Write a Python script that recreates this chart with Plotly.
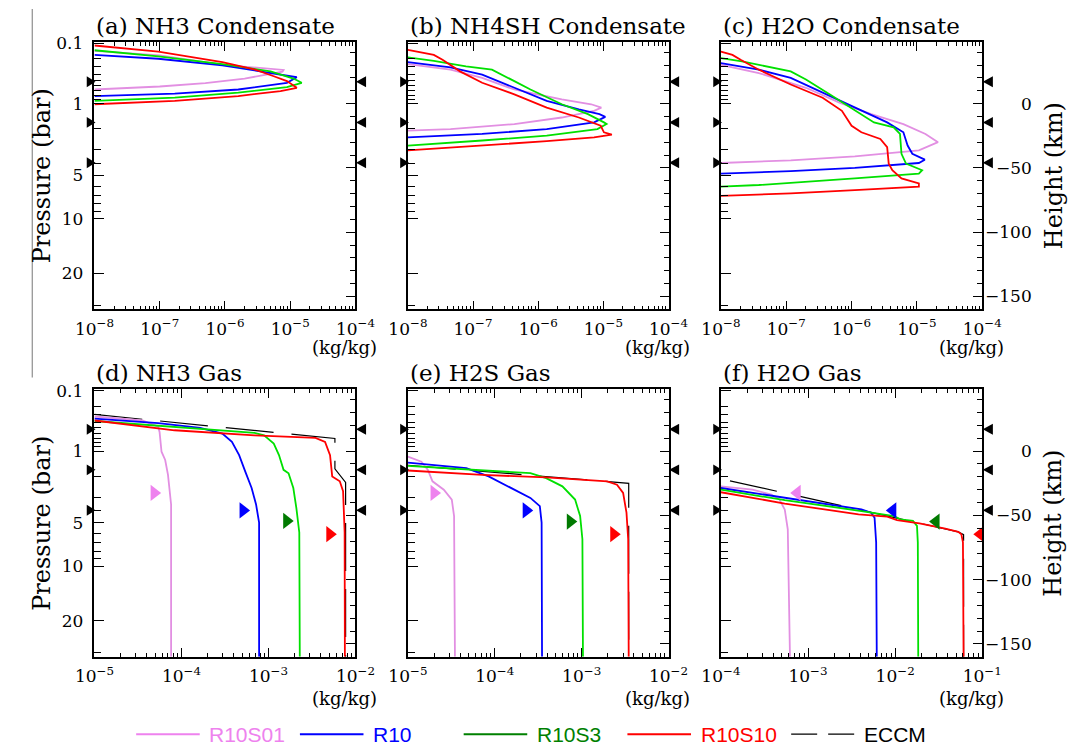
import plotly.graph_objects as go

FIG_W, FIG_H = 1088, 750

# ---------------- axis / tick values ----------------
H_RANGE = [-160, 48]                      # height (km), linear vertical axis
P_LABELS = ["0.1", "1", "5", "10", "20"]  # pressure (bar) labels
P_LABEL_H = [47.0, 0.0, -55.6, -89.5, -131.8]
P_MINOR_H = [35.0, 28.5, 22.5, 18.0, 14.0, 10.0, 6.5, 3.2,
             -19.7, -35.9, -46.2, -64.1, -71.3, -77.9, -83.8, -157.0]
HEIGHT_TICKS = [0, -50, -100, -150]
HEIGHT_LABELS = ["0", "\u221250", "\u2212100", "\u2212150"]
CLOUD_BASE_H = [17.0, -14.6, -46.0]       # black triangles (km)

TITLES = ["(a) NH3 Condensate", "(b) NH4SH Condensate", "(c) H2O Condensate",
          "(d) NH3 Gas", "(e) H2S Gas", "(f) H2O Gas"]
X_EXP_RANGES = [(-8, -4), (-8, -4), (-8, -4), (-5, -2), (-5, -2), (-4, -1)]

SERIES = ["R10S01", "R10", "R10S3", "R10S10", "ECCM"]
LINE_COLORS = {"R10S01": "#E28FE2", "R10": "#0000FF", "R10S3": "#00E000",
               "R10S10": "#FF0000", "ECCM": "#000000"}
LEGEND_COLORS = ["#EE82EE", "#0000FF", "#008000", "#FF0000", "#000000"]
MARKER_COLORS = {"R10S01": "#EE82EE", "R10": "#0000FF", "R10S3": "#007A00", "R10S10": "#FF0000"}

# ---------------- (a) NH3 condensate ----------------
A_R10S01_X = [1e-8, 1e-7, 1e-6, 3e-6, 6e-6, 7.9e-6, 7.6e-6, 5.6e-6, 2.0e-6, 5e-7, 1e-7, 1e-8]
A_R10S01_H = [41.0, 37.5, 30.0, 27.8, 26.8, 26.2, 24.8, 23.5, 19.5, 16.0, 13.3, 11.0]
A_R10_X = [1e-8, 9.5e-8, 9.1e-7, 5.0e-6, 1.26e-5, 8.9e-6, 1.6e-6, 1.7e-7, 1e-8]
A_R10_H = [37.9, 34.9, 29.8, 23.8, 20.5, 16.2, 11.0, 7.7, 5.9]
A_R10S3_X = [1e-8, 9.5e-8, 9.1e-7, 5.0e-6, 1.12e-5, 1.5e-5, 8.9e-6, 1.6e-6, 1.7e-7, 1e-8]
A_R10S3_H = [41.5, 36.7, 30.8, 25.1, 19.5, 16.2, 12.8, 8.5, 4.6, 2.1]
A_R10S10_X = [1e-8, 9.5e-8, 9.1e-7, 2.9e-6, 5.6e-6, 8.9e-6, 1.26e-5, 7.1e-6, 1.6e-6, 1.7e-7, 1e-8]
A_R10S10_H = [45.2, 40.5, 32.3, 26.4, 21.3, 17.5, 12.3, 9.8, 5.9, 2.1, -0.5]

# ---------------- (b) NH4SH condensate ----------------
B_R10S01_X = [1e-8, 4.5e-8, 1.38e-7, 4.3e-7, 1.07e-6, 2.3e-6, 6.5e-6, 9.3e-6, 7.2e-6, 2.3e-6, 4.3e-7, 4.5e-8, 1e-8]
B_R10S01_H = [30.8, 26.4, 20.0, 11.0, 6.7, 3.3, -0.5, -3.1, -5.6, -10.8, -15.9, -19.8, -21.0]
B_R10_X = [1e-8, 4.5e-8, 1.38e-7, 4.3e-7, 1.35e-6, 4.2e-6, 8.7e-6, 1.07e-5, 7.2e-6, 1.35e-6, 1.38e-7, 1e-8]
B_R10_H = [32.3, 28.2, 22.6, 12.3, 2.1, -4.4, -8.2, -10.3, -14.6, -19.8, -23.6, -26.2]
B_R10S3_X = [1e-8, 2.5e-8, 7.8e-8, 1.95e-7, 4.3e-7, 7.6e-7, 2.3e-6, 5.8e-6, 1.02e-5, 1.12e-5, 8.1e-6, 1.35e-6, 1.38e-7, 1e-8]
B_R10S3_H = [35.9, 33.3, 29.0, 26.4, 17.5, 11.0, -0.5, -8.2, -14.6, -15.9, -19.8, -24.9, -28.7, -32.6]
B_R10S10_X = [1e-8, 2.5e-8, 3.4e-8, 6.3e-8, 1.38e-7, 4.3e-7, 1.35e-6, 4.2e-6, 9.1e-6, 1.02e-5, 1.35e-5, 7.2e-6, 1.35e-6, 1.38e-7, 1e-8]
B_R10S10_H = [41.8, 37.9, 34.1, 25.1, 16.2, 7.2, -3.1, -10.8, -17.2, -22.3, -24.1, -26.2, -29.2, -32.6, -36.4]

# ---------------- (c) H2O condensate ----------------
C_R10S01_X = [1e-8, 3.8e-8, 2.0e-7, 6.5e-7, 2.0e-6, 6.2e-6, 1.35e-5, 2.1e-5, 1.07e-5, 1.12e-6, 1.17e-7, 1e-8]
C_R10S01_H = [30.2, 23.8, 12.3, 0.8, -8.2, -15.9, -23.6, -30.0, -36.4, -41.0, -44.1, -46.2]
C_R10_X = [1e-8, 3.8e-8, 1.17e-7, 3.6e-7, 1.12e-6, 3.5e-6, 6.2e-6, 7.2e-6, 8.5e-6, 1.32e-5, 1.07e-5, 1.12e-6, 1.17e-7, 1e-8]
C_R10_H = [31.5, 26.4, 20.0, 8.5, -3.1, -14.6, -22.3, -32.6, -39.0, -43.6, -46.2, -50.0, -52.5, -54.4]
C_R10S3_X = [1e-8, 2.1e-8, 1.17e-7, 2.0e-7, 4.6e-7, 7.9e-7, 1.41e-6, 2.2e-6, 4.4e-6, 5.5e-6, 5.8e-6, 6.8e-6, 1.2e-5, 1.07e-5, 1.12e-6, 3.8e-8, 1e-8]
C_R10S3_H = [35.4, 32.8, 25.1, 18.7, 7.2, -0.5, -8.2, -14.6, -18.5, -23.6, -39.0, -46.7, -51.8, -54.4, -58.2, -63.3, -64.6]
C_R10S10_X = [1e-8, 1.5e-8, 2.0e-8, 3.8e-8, 1.17e-7, 3.6e-7, 7.1e-7, 1.0e-6, 1.41e-6, 2.75e-6, 3.5e-6, 3.7e-6, 4.2e-6, 5.8e-6, 1.07e-5, 1.07e-5, 1.12e-6, 1.17e-7, 1e-8]
C_R10S10_H = [40.5, 37.9, 34.1, 26.4, 14.9, 4.6, -5.6, -17.2, -22.3, -27.5, -33.8, -46.7, -51.8, -58.2, -62.1, -64.6, -67.2, -69.8, -71.8]

# ---------------- (d) NH3 gas ----------------
D_R10S01_X = [1e-5, 3.55e-5, 5.4e-5, 5.6e-5, 5.9e-5, 6.5e-5, 7.0e-5, 7.6e-5, 7.6e-5]
D_R10S01_H = [26.9, 23.8, 19.0, 14.9, -0.5, -6.9, -18.5, -41.5, -160.0]
D_R10_X = [1e-5, 5.4e-5, 1.64e-4, 2.95e-4, 3.8e-4, 4.6e-4, 5.4e-4, 6.4e-4, 7.2e-4, 7.8e-4, 7.8e-4]
D_R10_H = [25.2, 21.8, 18.0, 13.6, 7.2, -3.1, -15.8, -28.7, -41.5, -55.6, -160.0]
D_R10S3_X = [1e-5, 1.26e-4, 6.9e-4, 8.9e-4, 1.15e-3, 1.32e-3, 1.49e-3, 1.7e-3, 1.93e-3, 2.09e-3, 2.26e-3, 2.29e-3]
D_R10S3_H = [23.4, 18.0, 14.1, 12.3, 5.9, -3.1, -14.6, -17.2, -28.7, -44.1, -63.3, -160.0]
D_R10S10_X = [1e-5, 8.3e-5, 6.9e-4, 3.47e-3, 4.47e-3, 5.1e-3, 5.4e-3, 6.6e-3, 7.2e-3, 7.3e-3, 7.5e-3, 7.55e-3]
D_R10S10_H = [23.8, 16.2, 12.3, 10.3, 7.2, -3.1, -19.7, -23.5, -31.2, -45.0, -63.0, -160.0]
D_ECCM_X = [1e-5, 5.8e-3, 5.8e-3, 7.7e-3, 7.7e-3]
D_ECCM_H = [28.5, 9.8, -13.8, -24.3, -160.0]
D_MARK_X = [4.85e-5, 5.1e-4, 1.62e-3, 5.07e-3]
D_MARK_H = [-32.5, -46.1, -54.3, -64.6]

# ---------------- (e) H2S gas ----------------
E_R10S01_X = [1e-5, 1.43e-5, 1.7e-5, 1.92e-5, 2.59e-5, 3.2e-5, 3.4e-5, 3.48e-5]
E_R10S01_H = [-4.3, -8.2, -14.6, -23.5, -30.0, -37.7, -50.5, -160.0]
E_R10_X = [1e-5, 4.7e-5, 8.5e-5, 1.42e-4, 2.57e-4, 3.3e-4, 3.46e-4, 3.5e-4]
E_R10_H = [-8.9, -13.3, -19.7, -27.4, -36.4, -42.8, -55.6, -160.0]
E_R10S3_X = [1e-5, 3.07e-5, 2.57e-4, 3.9e-4, 6.0e-4, 8.4e-4, 9.6e-4, 1.02e-3, 1.035e-3]
E_R10S3_H = [-11.5, -13.3, -17.2, -21.0, -27.4, -37.7, -50.5, -68.5, -160.0]
E_R10S10_X = [1e-5, 7.2e-5, 3.9e-4, 1.97e-3, 2.55e-3, 3.0e-3, 3.28e-3, 3.43e-3, 3.48e-3]
E_R10S10_H = [-15.1, -18.5, -20.5, -23.5, -26.1, -32.5, -47.9, -68.5, -160.0]
E_ECCM_X = [1e-5, 3.48e-3, 3.48e-3]
E_ECCM_H = [-11.0, -25.1, -160.0]
E_MARK_X = [2.0e-5, 2.3e-4, 7.4e-4, 2.34e-3]
E_MARK_H = [-32.5, -46.1, -54.8, -64.6]

# ---------------- (f) H2O gas ----------------
F_R10S01_X = [1e-4, 2.3e-4, 3.8e-4, 4.7e-4, 5.4e-4, 5.85e-4, 6.2e-4]
F_R10S01_H = [-27.4, -30.0, -33.8, -37.7, -45.4, -60.8, -160.0]
F_R10_X = [1e-4, 5.4e-4, 4.1e-3, 5.3e-3, 5.8e-3, 6.05e-3, 6.15e-3]
F_R10_H = [-28.7, -36.4, -45.4, -47.9, -51.8, -71.0, -160.0]
F_R10S3_X = [1e-4, 5.4e-4, 4.1e-3, 9.7e-3, 1.15e-2, 1.6e-2, 1.78e-2, 1.82e-2, 1.84e-2]
F_R10S3_H = [-30.0, -38.2, -46.6, -50.5, -53.1, -54.3, -58.2, -71.0, -160.0]
F_R10S10_X = [1e-4, 5.4e-4, 3.8e-3, 8.1e-3, 1.05e-2, 1.9e-2, 3.76e-2, 5.3e-2, 5.75e-2, 6.0e-2, 6.1e-2]
F_R10S10_H = [-32.0, -40.8, -49.2, -51.0, -53.6, -56.2, -60.2, -62.8, -64.6, -71.0, -160.0]
F_ECCM_X = [1.27e-4, 5.3e-2, 6.1e-2, 6.1e-2]
F_ECCM_H = [-23.1, -62.8, -65.0, -160.0]
F_MARK_X = [7.5e-4, 9.4e-3, 2.95e-2, 9.5e-2]
F_MARK_H = [-32.5, -46.1, -54.8, -64.6]

PANEL_DATA = [
    {"R10S01": (A_R10S01_X, A_R10S01_H), "R10": (A_R10_X, A_R10_H),
     "R10S3": (A_R10S3_X, A_R10S3_H), "R10S10": (A_R10S10_X, A_R10S10_H)},
    {"R10S01": (B_R10S01_X, B_R10S01_H), "R10": (B_R10_X, B_R10_H),
     "R10S3": (B_R10S3_X, B_R10S3_H), "R10S10": (B_R10S10_X, B_R10S10_H)},
    {"R10S01": (C_R10S01_X, C_R10S01_H), "R10": (C_R10_X, C_R10_H),
     "R10S3": (C_R10S3_X, C_R10S3_H), "R10S10": (C_R10S10_X, C_R10S10_H)},
    {"ECCM": (D_ECCM_X, D_ECCM_H), "R10S01": (D_R10S01_X, D_R10S01_H), "R10": (D_R10_X, D_R10_H),
     "R10S3": (D_R10S3_X, D_R10S3_H), "R10S10": (D_R10S10_X, D_R10S10_H)},
    {"ECCM": (E_ECCM_X, E_ECCM_H), "R10S01": (E_R10S01_X, E_R10S01_H), "R10": (E_R10_X, E_R10_H),
     "R10S3": (E_R10S3_X, E_R10S3_H), "R10S10": (E_R10S10_X, E_R10S10_H)},
    {"ECCM": (F_ECCM_X, F_ECCM_H), "R10S01": (F_R10S01_X, F_R10S01_H), "R10": (F_R10_X, F_R10_H),
     "R10S3": (F_R10S3_X, F_R10S3_H), "R10S10": (F_R10S10_X, F_R10S10_H)},
]
PANEL_MARKERS = [None, None, None,
                 (D_MARK_X, D_MARK_H, "triangle-right"),
                 (E_MARK_X, E_MARK_H, "triangle-right"),
                 (F_MARK_X, F_MARK_H, "triangle-left")]

# ---------------- layout geometry (pixels) ----------------
COLS = [(77.3, 348.3), (402.7, 673.3), (727.7, 999.0)]
ROWS = [(33.3, 304.0), (385.0, 655.7)]
UNIT_OFFSET = [39, 42]
SERIF = "DejaVu Serif"
SANS = "Liberation Sans"

fig = go.Figure()
annotations = []
shapes = []
layout = {}


def px_x(v):
    return v / FIG_W


def px_y(v):
    return 1 - v / FIG_H


def ax_id(letter, n):
    return letter if n == 1 else f"{letter}{n}"


for k in range(6):
    i = k + 1
    row, col = divmod(k, 3)
    c0, c1 = COLS[col]
    r0, r1 = ROWS[row]
    xa, ya, ya2 = ax_id("x", i), ax_id("y", i), ax_id("y", i + 6)
    e0, e1 = X_EXP_RANGES[k]

    for name, (xs, hs) in PANEL_DATA[k].items():
        fig.add_trace(go.Scatter(
            x=xs, y=hs, mode="lines", xaxis=xa, yaxis=ya, showlegend=False,
            hoverinfo="skip",
            line=dict(color=LINE_COLORS[name], width=1.2 if name == "ECCM" else 1.8,
                      dash="48px,18px" if name == "ECCM" else "solid")))
    if PANEL_MARKERS[k] is not None:
        mx, mh, sym = PANEL_MARKERS[k]
        fig.add_trace(go.Scatter(
            x=mx, y=mh, mode="markers", xaxis=xa, yaxis=ya, showlegend=False,
            hoverinfo="skip", cliponaxis=False,
            marker=dict(symbol=sym, size=14,
                        color=[MARKER_COLORS[s] for s in SERIES[:4]],
                        line=dict(width=0))))
    # dummy trace so the right-hand height axis is drawn
    fig.add_trace(go.Scatter(x=[None], y=[None], xaxis=xa, yaxis=ya2,
                             showlegend=False, hoverinfo="skip"))

    major = [10.0 ** e for e in range(e0, e1 + 1)]
    minor = [m * 10.0 ** e for e in range(e0, e1) for m in range(2, 10)]
    layout[ax_id("xaxis", i)] = dict(
        type="log", range=[e0, e1], domain=[px_x(c0), px_x(c1)], anchor=ya,
        tickmode="array", tickvals=major,
        ticktext=[f"10<sup>\u2212{abs(e)}</sup>" for e in range(e0, e1 + 1)],
        ticks="inside", ticklen=9, tickwidth=1, tickcolor="black",
        minor=dict(tickmode="array", tickvals=minor, ticks="inside", ticklen=4,
                   tickwidth=1, tickcolor="black"),
        mirror="ticks", showline=True, linecolor="black", linewidth=1.5,
        showgrid=False, zeroline=False, fixedrange=True,
        tickfont=dict(family=SERIF, size=17, color="black"), ticklabelstandoff=3)
    layout[ax_id("yaxis", i)] = dict(
        range=H_RANGE, domain=[px_y(r1), px_y(r0)], anchor=xa,
        tickmode="array", tickvals=P_LABEL_H, ticktext=P_LABELS,
        showticklabels=(col == 0),
        ticks="inside", ticklen=10, tickwidth=1, tickcolor="black",
        minor=dict(tickmode="array", tickvals=P_MINOR_H, ticks="inside", ticklen=7,
                   tickwidth=1, tickcolor="black"),
        showline=True, mirror=True, linecolor="black", linewidth=1.5,
        showgrid=False, zeroline=False, fixedrange=True,
        tickfont=dict(family=SERIF, size=17, color="black"), ticklabelstandoff=6)
    layout[ax_id("yaxis", i + 6)] = dict(
        range=H_RANGE, overlaying=ya, anchor=xa, side="right",
        tickmode="array", tickvals=HEIGHT_TICKS, showticklabels=False,
        ticks="inside", ticklen=9, tickwidth=1, tickcolor="black",
        minor=dict(dtick=10, tick0=0, ticks="inside", ticklen=5, tickwidth=1,
                   tickcolor="black"),
        showline=False, showgrid=False, zeroline=False, fixedrange=True)

    # panel title
    annotations.append(dict(text=TITLES[k], xref=f"{xa} domain", x=0, xanchor="left",
                            yref="paper", y=px_y(r0 - 16.3), yanchor="middle",
                            showarrow=False, font=dict(family=SERIF, size=23, color="black")))
    # unit label
    annotations.append(dict(text="(kg/kg)", xref=f"{xa} domain", x=1.091, xanchor="right",
                            yref="paper", y=px_y(r1 + UNIT_OFFSET[row]), yanchor="middle",
                            showarrow=False, font=dict(family=SERIF, size=18, color="black")))
    # right height labels
    if col == 2:
        for hv, ht in zip(HEIGHT_TICKS, HEIGHT_LABELS):
            annotations.append(dict(text=ht, xref=f"{xa} domain", x=1 + 54 / (c1 - c0),
                                    xanchor="right", yref=ya, y=hv, yanchor="middle",
                                    showarrow=False,
                                    font=dict(family=SERIF, size=17, color="black")))
    # black cloud-base triangles outside the frame
    for hb in CLOUD_BASE_H:
        wl = 8 / (c1 - c0)
        wr = 11 / (c1 - c0)
        shapes.append(dict(type="path", xref=f"{xa} domain", yref=ya,
                           path=f"M {-wl},{hb + 4.2} L 0.004,{hb} L {-wl},{hb - 4.2} Z",
                           fillcolor="black", line=dict(width=0)))
        shapes.append(dict(type="path", xref=f"{xa} domain", yref=ya,
                           path=f"M {1 + wr},{hb + 4.2} L 1.002,{hb} L {1 + wr},{hb - 4.2} Z",
                           fillcolor="black", line=dict(width=0)))

# axis titles
for r0, r1 in ROWS:
    yc = px_y((r0 + r1) / 2)
    annotations.append(dict(text="Pressure (bar)", xref="paper", x=px_x(22.5), yref="paper",
                            y=yc, textangle=-90, showarrow=False, xanchor="center",
                            yanchor="middle", font=dict(family=SERIF, size=24, color="black")))
    annotations.append(dict(text="Height (km)", xref="paper", x=px_x(1073), yref="paper",
                            y=yc, textangle=-90, showarrow=False, xanchor="center",
                            yanchor="middle", font=dict(family=SERIF, size=24, color="black")))

# thin vertical rule on the left of the top row
shapes.append(dict(type="line", xref="paper", yref="paper", x0=px_x(12.7), x1=px_x(12.7),
                   y0=px_y(373), y1=1.0, line=dict(color="#777777", width=1)))

# custom legend row
LEG_Y = 734
for j, (name, colr) in enumerate(zip(SERIES, LEGEND_COLORS)):
    x0 = 120.6 + 170 * j
    shapes.append(dict(type="line", xref="paper", yref="paper",
                       x0=px_x(x0), x1=px_x(x0 + 66), y0=px_y(LEG_Y), y1=px_y(LEG_Y),
                       line=dict(color=colr, width=1.3 if name == "ECCM" else 2,
                                 dash="26px,11px" if name == "ECCM" else "solid")))
    annotations.append(dict(text=name, xref="paper", x=px_x(x0 + 74), xanchor="left",
                            yref="paper", y=px_y(LEG_Y), yanchor="middle", showarrow=False,
                            font=dict(family=SANS, size=21, color=colr)))

fig.update_layout(
    width=FIG_W, height=FIG_H, margin=dict(l=0, r=0, t=0, b=0, pad=0),
    paper_bgcolor="white", plot_bgcolor="white", showlegend=False,
    annotations=annotations, shapes=shapes, **layout)

fig.write_html("out.html")
